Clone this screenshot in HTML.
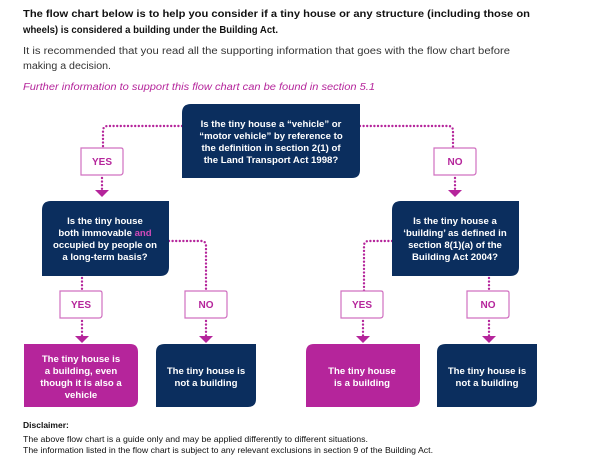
<!DOCTYPE html>
<html><head><meta charset="utf-8"><style>
html,body{margin:0;padding:0;background:#fff;}
svg{display:block;font-family:"Liberation Sans",sans-serif;}
</style></head><body>
<svg width="602" height="463" viewBox="0 0 602 463" xmlns="http://www.w3.org/2000/svg">
<g font-size="10" fill="#111">
<text x="23" y="17" font-weight="bold" textLength="507" lengthAdjust="spacingAndGlyphs">The flow chart below is to help you consider if a tiny house or any structure (including those on</text>
<text x="23" y="33" font-weight="bold" textLength="255" lengthAdjust="spacingAndGlyphs">wheels) is considered a building under the Building Act.</text>
<text x="23" y="54" fill="#333" textLength="487" lengthAdjust="spacingAndGlyphs">It is recommended that you read all the supporting information that goes with the flow chart before</text>
<text x="23" y="69" fill="#333" textLength="88" lengthAdjust="spacingAndGlyphs">making a decision.</text>
<text x="23" y="90" fill="#b5259b" font-style="italic" textLength="352" lengthAdjust="spacingAndGlyphs">Further information to support this flow chart can be found in section 5.1</text>
</g>
<g fill="none" stroke="#b5259b" stroke-width="2.4" stroke-dasharray="0 3.6" stroke-linecap="round">
<path d="M182 126 H108 Q103 126 103 131 V148"/>
<path d="M360 126 H448 Q453 126 453 131 V148"/>
<path d="M102 178 V190"/>
<path d="M455 178 V190"/>
<path d="M169 241 H201 Q206 241 206 246 V291"/>
<path d="M392 241 H369 Q364 241 364 246 V291"/>
<path d="M82 278 V291"/><path d="M82 321 V336"/>
<path d="M206 321 V336"/>
<path d="M489 278 V291"/><path d="M489 321 V336"/>
<path d="M363 321 V336"/>
</g>
<g fill="#b5259b">
<path d="M95 190 H109 L102 197Z"/><path d="M448 190 H462 L455 197Z"/>
<path d="M75 336 H89 L82 343Z"/><path d="M199 336 H213 L206 343Z"/>
<path d="M356 336 H370 L363 343Z"/><path d="M482 336 H496 L489 343Z"/>
</g>
<g fill="#fff" stroke="#d070c0" stroke-width="1.2">
<path d="M81 148 H121 Q123 148 123 150 V172 Q123 175 120 175 H81Z"/>
<path d="M434 148 H474 Q476 148 476 150 V172 Q476 175 473 175 H434Z"/>
<path d="M60 291 H100 Q102 291 102 293 V315 Q102 318 99 318 H60Z"/>
<path d="M185 291 H225 Q227 291 227 293 V315 Q227 318 224 318 H185Z"/>
<path d="M341 291 H381 Q383 291 383 293 V315 Q383 318 380 318 H341Z"/>
<path d="M467 291 H507 Q509 291 509 293 V315 Q509 318 506 318 H467Z"/>
</g>
<g font-size="10" font-weight="bold" fill="#b5259b" text-anchor="middle">
<text x="102" y="165">YES</text><text x="455" y="165">NO</text>
<text x="81" y="308">YES</text><text x="206" y="308">NO</text>
<text x="362" y="308">YES</text><text x="488" y="308">NO</text>
</g>
<g>
<path d="M191 104 H360 V170 Q360 178 352 178 H182 V113 Q182 104 191 104Z" fill="#0b2e5e"/>
<path d="M51 201 H169 V267 Q169 276 160 276 H42 V210 Q42 201 51 201Z" fill="#0b2e5e"/>
<path d="M401 201 H519 V267 Q519 276 510 276 H392 V210 Q392 201 401 201Z" fill="#0b2e5e"/>
<path d="M24 344 H130 Q138 344 138 352 V399 Q138 407 130 407 H24Z" fill="#b5259b"/>
<path d="M165 344 H256 V399 Q256 407 248 407 H156 V352 Q156 344 165 344Z" fill="#0b2e5e"/>
<path d="M314 344 H420 V399 Q420 407 412 407 H306 V352 Q306 344 314 344Z" fill="#b5259b"/>
<path d="M446 344 H537 V399 Q537 407 529 407 H437 V352 Q437 344 446 344Z" fill="#0b2e5e"/>
</g>
<g font-size="9.6" font-weight="bold" fill="#fff" text-anchor="middle">
<text x="271" y="127">Is the tiny house a “vehicle” or</text>
<text x="271" y="139">“motor vehicle” by reference to</text>
<text x="271" y="151">the definition in section 2(1) of</text>
<text x="271" y="163">the Land Transport Act 1998?</text>
<text x="105" y="224">Is the tiny house</text>
<text x="105" y="236">both immovable <tspan fill="#d04ab8">and</tspan></text>
<text x="105" y="248">occupied by people on</text>
<text x="105" y="260">a long-term basis?</text>
<text x="455" y="224">Is the tiny house a</text>
<text x="455" y="236">‘building’ as defined in</text>
<text x="455" y="248">section 8(1)(a) of the</text>
<text x="455" y="260">Building Act 2004?</text>
<text x="81" y="362">The tiny house is</text>
<text x="81" y="374">a building, even</text>
<text x="81" y="386">though it is also a</text>
<text x="81" y="398">vehicle</text>
<text x="206" y="374">The tiny house is</text>
<text x="206" y="386">not a building</text>
<text x="362" y="374">The tiny house</text>
<text x="362" y="386">is a building</text>
<text x="487" y="374">The tiny house is</text>
<text x="487" y="386">not a building</text>
</g>
<g font-size="8.5" fill="#111">
<text x="23" y="428" font-weight="bold">Disclaimer:</text>
<text x="23" y="442" textLength="345" lengthAdjust="spacingAndGlyphs">The above flow chart is a guide only and may be applied differently to different situations.</text>
<text x="23" y="453" textLength="410" lengthAdjust="spacingAndGlyphs">The information listed in the flow chart is subject to any relevant exclusions in section 9 of the Building Act.</text>
</g>
</svg>
</body></html>
